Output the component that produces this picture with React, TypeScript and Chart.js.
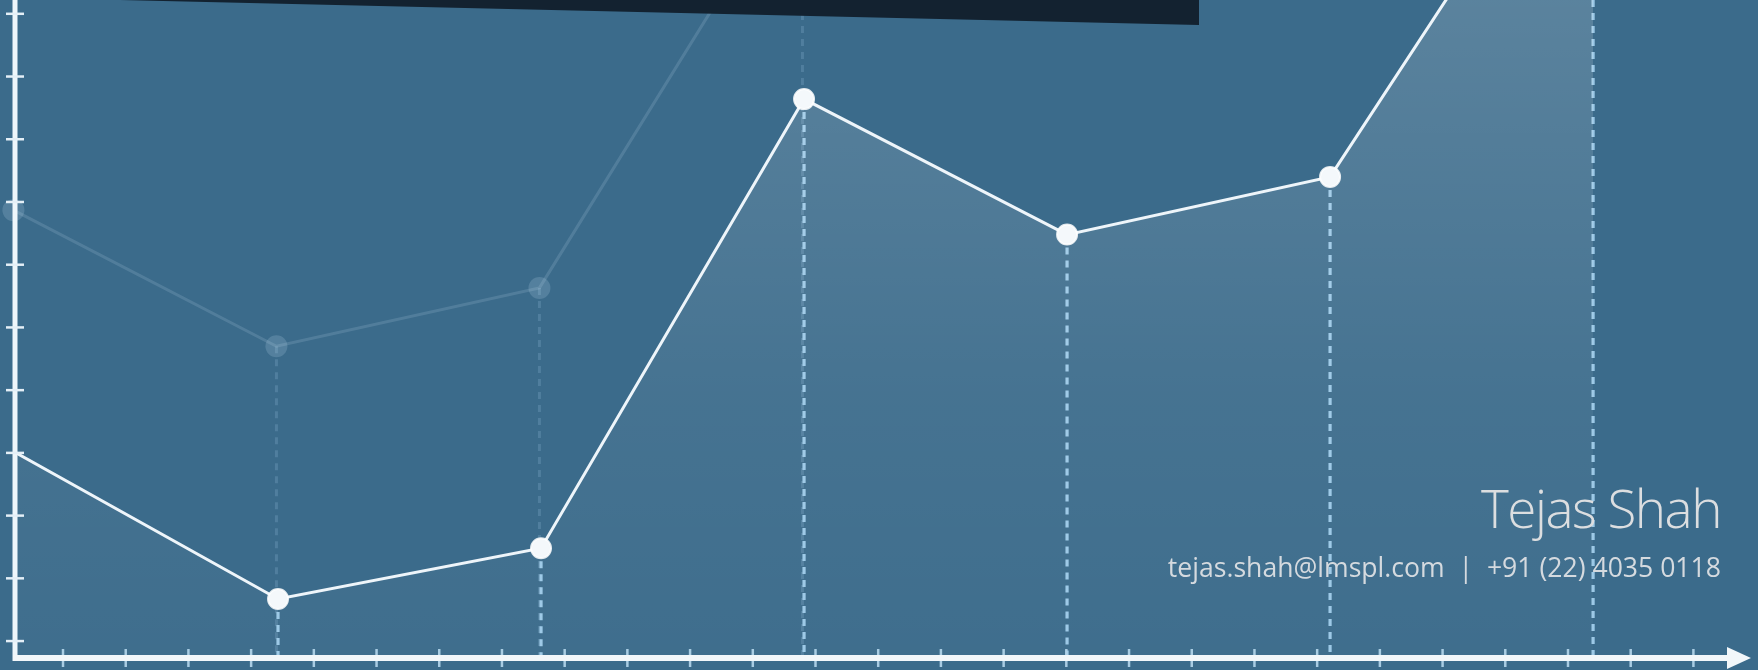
import React, { useEffect, useRef } from "react";
import { Chart, registerables } from "chart.js";

Chart.register(...registerables);

// ---- data ----
const pointX = [0, 1, 2, 3, 4, 5, 6];
const mainValues = [4.01, 1.67, 2.48, 9.64, 7.48, 8.4, 14.8];
const ghostX = [-1, 0, 1, 2, 3, 4, 5, 6];
const ghostValues = [0.33, 7.87, 5.7, 6.63, 13.4, 11.5, 12.4, 18.8];
const ghostDropX = [1, 2, 3];
const xTickValues = [1, 2, 3, 4, 5, 6, 7, 8, 9, 10, 11, 12, 13, 14, 15, 16, 17, 18, 19, 20, 21, 22, 23, 24, 25, 26, 27];
const yTickValues = [1, 2, 3, 4, 5, 6, 7, 8, 9, 10, 11];
const mainPointRadius = [0, 10, 10, 10, 10, 10, 10];
const nameText = "Tejas Shah";
const contactText = "tejas.shah@lmspl.com  |  +91 (22) 4035 0118";

const W = 1758;
const H = 670;
const BG = "#3b6b8b";

const backgroundPlugin = {
  id: "bgFill",
  beforeDraw(chart: any) {
    const c = chart.ctx;
    c.save();
    c.fillStyle = BG;
    c.fillRect(0, 0, chart.width, chart.height);
    c.restore();
  },
};

const dropLinesPlugin = {
  id: "dropLines",
  beforeDatasetsDraw(chart: any) {
    const c = chart.ctx;
    const xs = chart.scales.x;
    const ys = chart.scales.y;
    const base = ys.getPixelForValue(ys.min);
    c.save();
    c.lineWidth = 3;
    c.setLineDash([7, 6]);
    // ghost drop lines
    c.strokeStyle = "rgba(165,205,235,0.2)";
    ghostX.forEach((xv, i) => {
      if (!ghostDropX.includes(xv)) return;
      const px = xs.getPixelForValue(xv - 0.006);
      const py = Math.max(ys.getPixelForValue(ghostValues[i]), 0);
      c.beginPath();
      c.moveTo(px, py);
      c.lineTo(px, base);
      c.stroke();
    });
    // main drop lines
    c.lineWidth = 3.2;
    c.strokeStyle = "rgba(160,205,235,0.95)";
    pointX.forEach((xv, i) => {
      if (xv <= 0) return;
      const px = xs.getPixelForValue(xv);
      const py = Math.max(ys.getPixelForValue(mainValues[i]), 0);
      c.beginPath();
      c.moveTo(px, py);
      c.lineTo(px, base);
      c.stroke();
    });
    c.restore();
  },
};

const axesPlugin = {
  id: "axesDecor",
  afterDatasetsDraw(chart: any) {
    const c = chart.ctx;
    const xt = chart.scales.xt;
    const ys = chart.scales.y;
    const left = chart.chartArea.left;
    const base = ys.getPixelForValue(ys.min);
    c.save();
    c.setLineDash([]);
    // y axis
    c.strokeStyle = "#eef6fb";
    c.lineWidth = 5;
    c.beginPath();
    c.moveTo(left, 0);
    c.lineTo(left, base + 3);
    c.stroke();
    // y ticks
    c.lineWidth = 2.5;
    c.strokeStyle = "#e4eff7";
    yTickValues.forEach((v) => {
      const py = ys.getPixelForValue(v);
      c.beginPath();
      c.moveTo(left - 9, py);
      c.lineTo(left + 9, py);
      c.stroke();
    });
    // x ticks
    c.strokeStyle = "rgba(175,210,232,0.95)";
    xTickValues.forEach((v) => {
      const px = xt.getPixelForValue(v);
      c.beginPath();
      c.moveTo(px, base - 9);
      c.lineTo(px, base + 9);
      c.stroke();
    });
    // x axis
    c.strokeStyle = "#f2f7fa";
    c.lineWidth = 6;
    c.beginPath();
    c.moveTo(left - 2, base);
    c.lineTo(1732, base);
    c.stroke();
    // arrow head
    c.fillStyle = "#f2f7fa";
    c.beginPath();
    c.moveTo(1727, base - 11);
    c.lineTo(1751, base);
    c.lineTo(1727, base + 11);
    c.closePath();
    c.fill();
    c.restore();
  },
};

const darkBarPlugin = {
  id: "darkBar",
  afterDraw(chart: any) {
    const c = chart.ctx;
    c.save();
    c.fillStyle = "#132230";
    c.beginPath();
    c.moveTo(120, 0);
    c.lineTo(1199, 0);
    c.lineTo(1199, 25);
    c.closePath();
    c.fill();
    c.restore();
  },
};

export default function App() {
  const canvasRef = useRef<HTMLCanvasElement | null>(null);

  useEffect(() => {
    if (!canvasRef.current) return;
    const chart = new Chart(canvasRef.current, {
      type: "line",
      data: {
        datasets: [
          {
            label: "main",
            data: pointX.map((x, i) => ({ x, y: mainValues[i] })),
            borderColor: "#eef5fa",
            borderWidth: 3,
            tension: 0,
            pointRadius: mainPointRadius,
            pointBackgroundColor: "#f4f8fb",
            pointBorderColor: "rgba(255,255,255,0.85)",
            pointBorderWidth: 2,
            fill: "start",
            backgroundColor: (ctx: any) => {
              const area = ctx.chart.chartArea;
              if (!area) return "rgba(255,255,255,0.08)";
              const g = ctx.chart.ctx.createLinearGradient(0, area.top, 0, area.bottom);
              g.addColorStop(0, "rgba(255,255,255,0.16)");
              g.addColorStop(0.6, "rgba(255,255,255,0.055)");
              g.addColorStop(1, "rgba(255,255,255,0.02)");
              return g;
            },
          },
          {
            label: "ghost",
            data: ghostX.map((x, i) => ({ x: x - 0.006, y: ghostValues[i] })),
            borderColor: "rgba(200,225,242,0.16)",
            borderWidth: 3,
            tension: 0,
            pointRadius: 11,
            pointBackgroundColor: "rgba(200,225,242,0.18)",
            pointBorderWidth: 0,
            fill: false,
            clip: { left: 16, top: 0, right: 0, bottom: 0 },
          } as any,
        ],
      },
      options: {
        animation: false,
        responsive: false,
        devicePixelRatio: 1,
        events: [],
        layout: { autoPadding: false, padding: { left: 15, right: 0, top: 0, bottom: 12 } },
        plugins: {
          legend: { display: false },
          tooltip: { enabled: false },
          title: { display: false },
        },
        scales: {
          x: { type: "linear", display: false, min: 0, max: 6.627 },
          xt: { type: "linear", axis: "x", display: false, min: 0.2344, max: 28.03 } as any,
          y: { type: "linear", display: false, min: 0.73, max: 11.22 },
        },
      } as any,
      plugins: [backgroundPlugin, dropLinesPlugin, axesPlugin, darkBarPlugin],
    });
    return () => chart.destroy();
  }, []);

  return (
    <div
      style={{
        position: "fixed",
        left: 0,
        top: 0,
        width: W,
        height: H,
        overflow: "hidden",
        background: BG,
      }}
    >
      <canvas ref={canvasRef} width={W} height={H} style={{ display: "block", width: W, height: H }} />
      <div
        style={{
          position: "absolute",
          right: 37,
          top: 481,
          fontFamily: "'Open Sans', sans-serif",
          fontWeight: 300,
          fontSize: 53,
          lineHeight: "53px",
          letterSpacing: "-1.5px",
          color: "#dcdee0",
          whiteSpace: "pre",
        }}
      >
        {nameText}
      </div>
      <div
        style={{
          position: "absolute",
          right: 37,
          top: 554,
          fontFamily: "'Open Sans', sans-serif",
          fontWeight: 400,
          fontSize: 26.6,
          lineHeight: "26.6px",
          color: "#d5dadf",
          whiteSpace: "pre",
        }}
      >
        {contactText}
      </div>
    </div>
  );
}
